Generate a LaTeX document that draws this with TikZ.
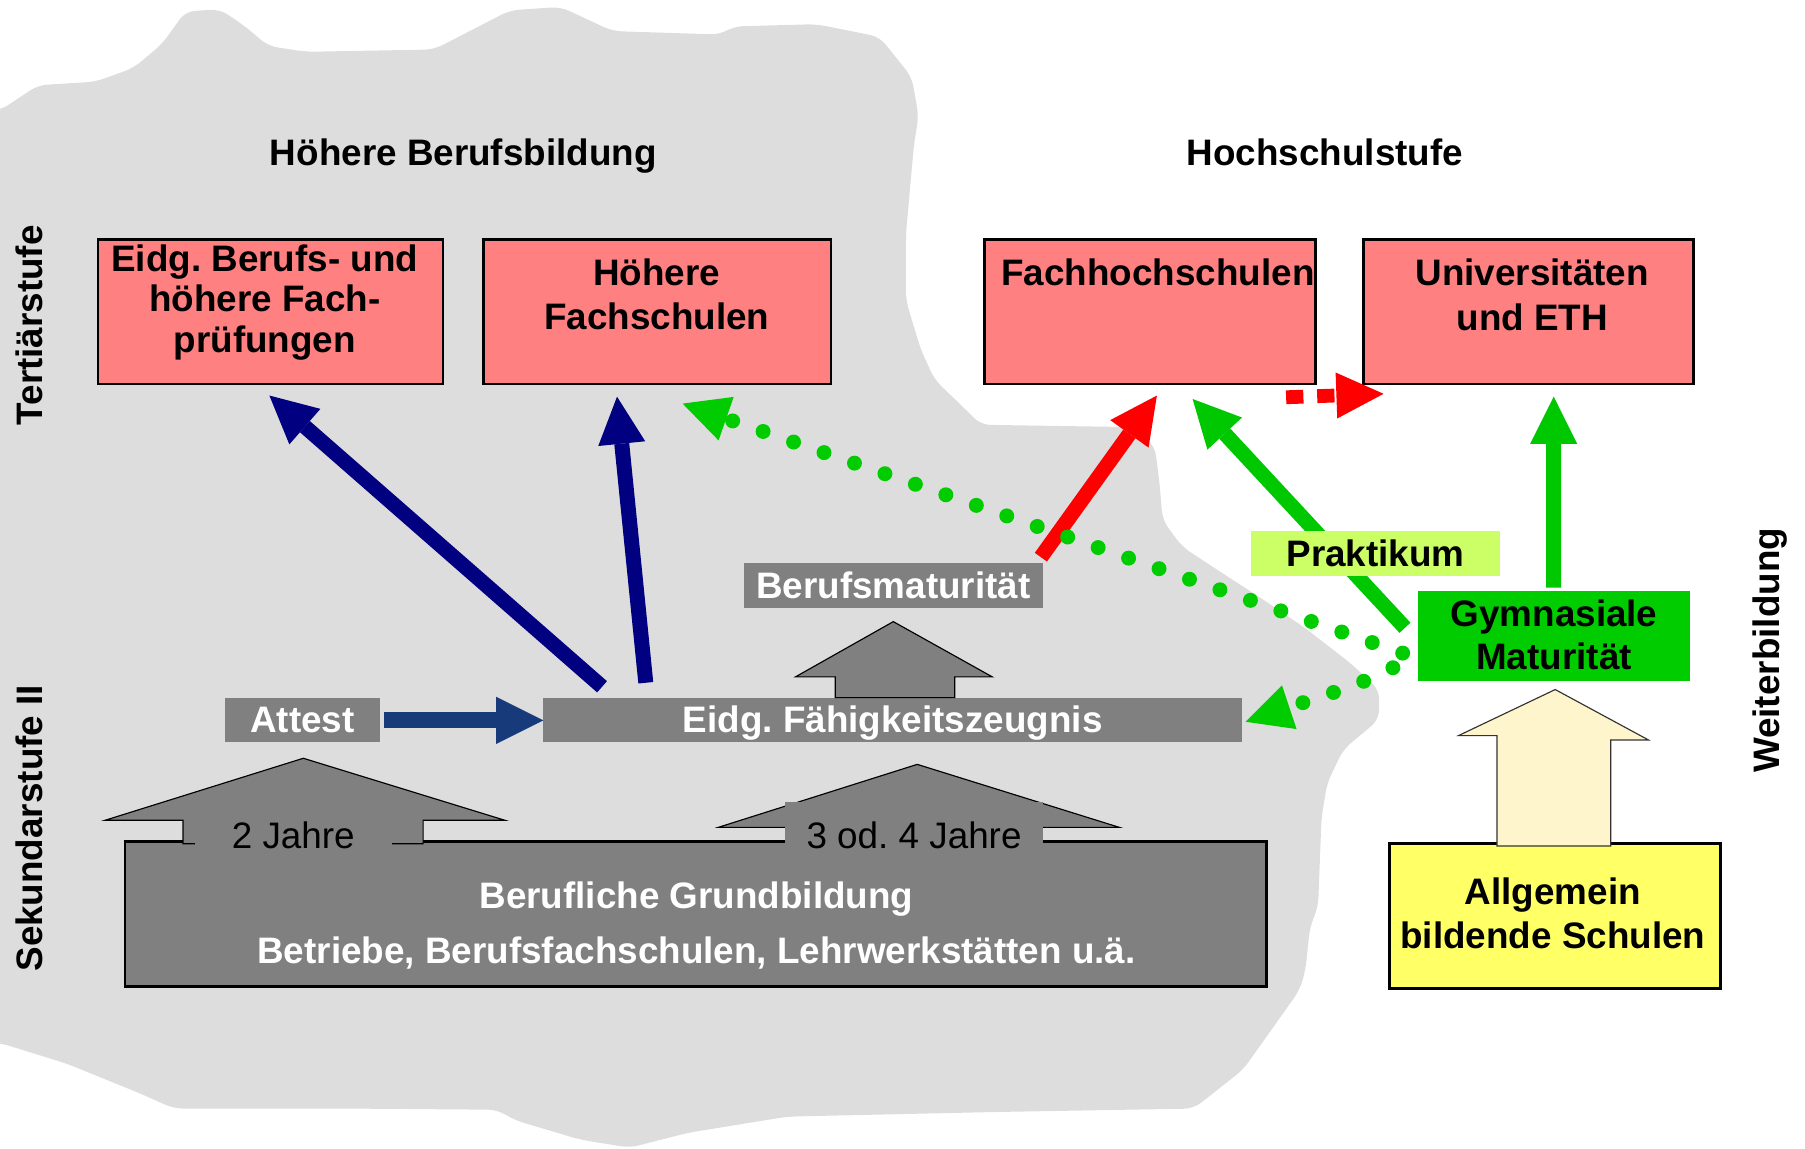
\documentclass[tikz,border=0pt]{standalone}
\usepackage{fontspec}
\setmainfont{Liberation Sans}
\usetikzlibrary{arrows.meta,calc}
\definecolor{blobgray}{RGB}{221,221,221}
\definecolor{boxgray}{RGB}{128,128,128}
\definecolor{salmon}{RGB}{255,128,128}
\definecolor{navyc}{RGB}{0,0,128}
\definecolor{attblue}{RGB}{23,59,122}
\definecolor{greenc}{RGB}{0,200,0}
\definecolor{gymgreen}{RGB}{0,204,0}
\definecolor{limec}{RGB}{204,255,102}
\definecolor{yellc}{RGB}{255,255,102}
\definecolor{creamc}{RGB}{255,245,204}
\begin{document}
\frenchspacing
\begin{tikzpicture}[x=1pt,y=-1pt,
  txt/.style={font=\fontsize{32}{39}\selectfont\bfseries, align=center, inner sep=0pt},
  wtxt/.style={txt, text=white},
  pinkbox/.style={draw=black, line width=2.2pt, fill=salmon, inner sep=0pt, outer sep=0pt},
  barbox/.style={fill=boxgray, text=white, font=\fontsize{32}{39}\selectfont\bfseries, inner sep=0pt, outer sep=0pt},
  fat/.style={line width=13pt, -{Triangle[length=41pt,width=41pt,line width=0pt]}},
  dotline/.style={draw=gymgreen, line width=13pt, line cap=round, dash pattern=on 0pt off 28pt, -{Triangle[length=40pt,width=40pt,line width=0pt]}},
  blockarrow/.style={draw=black, line width=1pt, fill=boxgray, line join=miter},
  yearlabel/.style={fill=boxgray, font=\fontsize{32}{39}\selectfont, inner sep=0pt, outer sep=0pt},
]
\useasboundingbox (0,0) rectangle (1568,998);
% background blob
\fill[blobgray, rounded corners=8pt]
 (-5,96) -- (0,96) -- (33,74) -- (83,71) -- (116,59) -- (141,38) -- (161,10) -- (191,8) -- (213,23) -- (233,40) -- (266,45) -- (377,43) -- (443,9) -- (487,6) -- (532,27) -- (626,30) -- (637,23) -- (709,21) -- (764,32) -- (792,67) -- (798,101) -- (794,125) -- (787,203) -- (787,261) -- (800,304) -- (812,330) -- (835,352) -- (852,369) -- (982,371) -- (1003,387) -- (1007,417) -- (1010,452) -- (1027,475) -- (1062,498) -- (1093,518) -- (1133,545) -- (1173,576) -- (1198,599) -- (1198,625) -- (1167,651) -- (1153,680) -- (1148,710) -- (1145,788) -- (1138,805) -- (1134,843) -- (1129,860) -- (1080,929) -- (1037,963) -- (864,966) -- (684,970) -- (598,984) -- (547,997) -- (504,990) -- (447,973) -- (432,964) -- (302,963) -- (151,963) -- (122,950) -- (58,924) -- (0,906) -- (-5,906) -- cycle;

% headers and side labels
\node[txt, anchor=base] (hb) at (402.5,144) {Höhere Berufsbildung};
\node[txt, anchor=base] (hs) at (1151,144) {Hochschulstufe};
\node[txt, rotate=90, anchor=base] (tert) at (37,282.5) {Tertiärstufe};
\node[txt, rotate=90, anchor=base] (sek) at (37,719.5) {Sekundarstufe II};
\node[txt, rotate=90, anchor=base] (weit) at (1546,565) {Weiterbildung};

% tertiary boxes
\node[pinkbox, minimum width=300pt, minimum height=125.6pt] (A) at (235,270.8) {};
\node[txt, anchor=base, font=\fontsize{32}{35}\selectfont\bfseries] (Atxt) at (230,306) {Eidg. Berufs- und\\höhere Fach-\\prüfungen};
\node[pinkbox, minimum width=302pt, minimum height=125.6pt] (B) at (571,270.8) {};
\node[txt, anchor=base, font=\fontsize{32}{38.5}\selectfont\bfseries] (Btxt) at (570.5,286.5) {Höhere\\Fachschulen};
\node[pinkbox, minimum width=287.5pt, minimum height=125.6pt] (C) at (999,270.8) {};
\node[txt, anchor=base] (Ctxt) at (1006,247.6) {Fachhochschulen};
\node[pinkbox, minimum width=286.6pt, minimum height=125.6pt] (D) at (1327.7,270.8) {};
\node[txt, anchor=base] (Dtxt) at (1331,286.7) {Universitäten\\und ETH};

% Berufliche Grundbildung
\node[draw=black, line width=2.5pt, fill=boxgray, inner sep=0pt, outer sep=0pt, minimum width=991.4pt, minimum height=126pt] (BG) at (604.3,794) {};
\node[wtxt, anchor=base, font=\fontsize{32}{47.8}\selectfont\bfseries] (BGtxt) at (605,836.8) {Berufliche Grundbildung\\Betriebe, Berufsfachschulen, Lehrwerkstätten u.ä.};
\draw[blockarrow] (159,733) -- (159,712.6) -- (91.2,712.6) -- (263.5,658.7) -- (438.7,712.6) -- (367.6,712.6) -- (367.6,733) -- cycle;
\node[yearlabel, minimum width=171.5pt, text height=24pt, text depth=6pt, anchor=base] (j2) at (254.75,737) {2 Jahre};
\draw[blockarrow] (624,718.7) -- (796.8,664) -- (972.3,718.7) -- cycle;
\node[yearlabel, minimum width=224pt, text height=40pt, text depth=8pt, anchor=base] (j34) at (794,737) {3 od. 4 Jahre};

% secondary level bars
\node[barbox, minimum width=607pt, text height=29.4pt, text depth=9pt] (EFZ) at (775.5,625.8) {Eidg. Fähigkeitszeugnis};
\node[barbox, minimum width=134.5pt, text height=29.4pt, text depth=9pt] (Att) at (262.75,625.8) {Attest};
\node[barbox, minimum width=259.4pt, text height=31pt, text depth=8pt] (BM) at (776,508.5) {Berufsmaturität};
\draw[blockarrow] (725.6,606) -- (725.6,588) -- (691,588) -- (776,540) -- (862,588) -- (829.4,588) -- (829.4,606) -- cycle;

% Allgemein bildende Schulen
\node[draw=black, line width=2.5pt, fill=yellc, inner sep=0pt, outer sep=0pt, minimum width=287.9pt, minimum height=126.2pt] (AS) at (1350.75,795.7) {};
\node[txt, anchor=base, font=\fontsize{32}{37.8}\selectfont\bfseries] (AStxt) at (1349,823.8) {Allgemein\\bildende Schulen};
\draw[draw=black!80, line width=1pt, fill=creamc] (1300.4,734.9) -- (1300.4,639) -- (1267,639) -- (1351,599) -- (1432,642.8) -- (1399.2,642.8) -- (1399.2,734.9) -- cycle;

% arrows
\draw[attblue, line width=14pt, shorten <=4pt, -{Triangle[length=41pt,width=41pt,line width=0pt]}] (Att) -- (EFZ);
\coordinate (t1) at ($(EFZ.north west)+(51,-10)$);
\coordinate (t2) at ($(EFZ.north west)+(89,-13.5)$);
\draw[fat, navyc] (t1) -- ($(A.south)+(-1,10)$);
\draw[fat, navyc] (t2) -- ($(B.south)+(-35,11)$);
\coordinate (t3) at ($(BM.north east)+(-1.5,-5)$);
\draw[fat, red] (t3) -- ($(C.south)+(6,10)$);

% Gymnasiale Maturitaet
\node[fill=gymgreen, inner sep=0pt, outer sep=0pt, minimum width=236.2pt, minimum height=77.9pt] (Gym) at (1349.6,552.35) {};
\node[txt, anchor=base, font=\fontsize{32}{37.6}\selectfont\bfseries] (Gymtxt) at (1350,582) {Gymnasiale\\Maturität};
\coordinate (t4) at ($(Gym.west)+(-11,-7)$);
\draw[fat, greenc] (t4) -- ($(C.south)+(37,13)$);
\coordinate (t5) at ($(Gym.north)+(0,-3)$);
\draw[fat, greenc] (t5) -- ($(D.south)+(22,11)$);
\node[fill=limec, font=\fontsize{32}{39}\selectfont\bfseries, inner sep=0pt, outer sep=0pt, minimum width=216.6pt, text height=30.7pt, text depth=8pt] (Prak) at (1194.9,480.65) {Praktikum};

% dotted green connectors
\coordinate (g0) at ($(Gym.west)+(-13,15)$);
\coordinate (g1) at ($(Gym.west)+(-21.5,27.7)$);
\draw[dotline] (g0) -- ($(B.south)+(22,17)$);
\draw[dotline] (g1) .. controls (1198,587) and (1190,590) .. (1160,601) -- ($(EFZ.east)+(3,1.2)$);

% red dashed connector
\draw[red, line width=12pt, dash pattern=on 15pt off 12pt, -{Triangle[length=41pt,width=40pt,line width=0pt]}] ($(C.south east)+(-25.5,11.5)$) -- ($(D.south west)+(17.5,8.5)$);
\end{tikzpicture}
\end{document}
